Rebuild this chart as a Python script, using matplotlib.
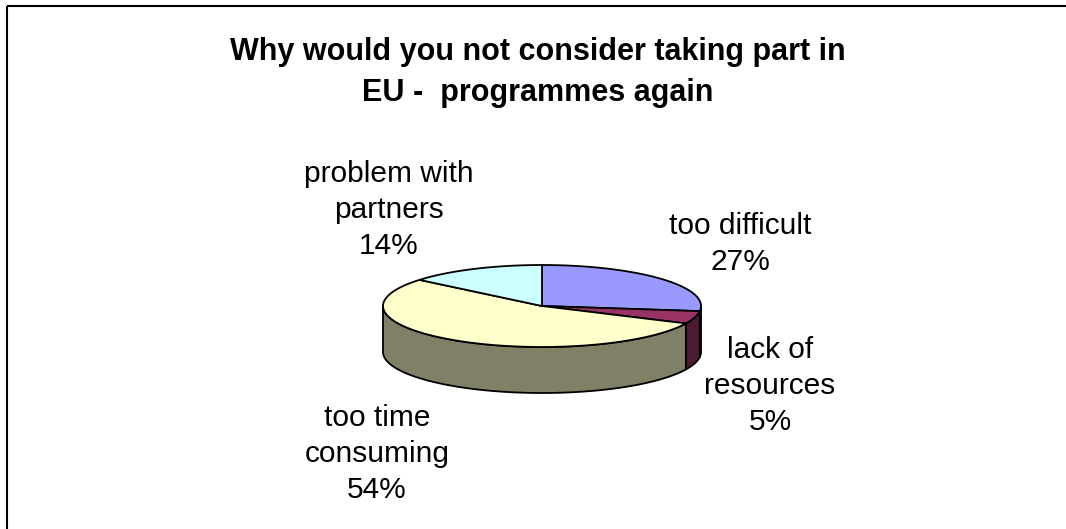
import numpy as np
import matplotlib.pyplot as plt
from matplotlib.patches import Polygon

plt.rcParams['font.family'] = ['Liberation Sans', 'DejaVu Sans']

labels = ['too difficult', 'lack of\nresources', 'too time\nconsuming', 'problem with\npartners']
values = [27, 5, 54, 14]
top_colors = ['#9999FF', '#993366', '#FFFFCC', '#CCFFFF']
side_colors = ['#4D4D80', '#4D1A33', '#808066', '#668080']
# baseline of each label's last line (pixel coords, y down)
label_pos = [(740, 270), (770, 430), (377, 498), (389, 254)]

title = 'Why would you not consider taking part in\nEU -  programmes again'

# ellipse geometry of the tilted pie
cx, cy = 542, 306
a, b = 159, 41
depth = 46


def rim(t0, t1, n=80):
    t = np.linspace(t0, t1, n)
    return cx + a * np.sin(t), cy - b * np.cos(t)


fig = plt.figure(figsize=(10.66, 5.29), dpi=100)
ax = fig.add_axes([0, 0, 1, 1])
ax.set_xlim(0, 1066)
ax.set_ylim(529, 0)
ax.axis('off')

# chart area border (only left and top show)
ax.plot([7, 7], [529, 5.5], color='black', lw=1.5, solid_capstyle='butt')
ax.plot([7, 1066], [5.5, 5.5], color='black', lw=1.5, solid_capstyle='butt')

fracs = np.array(values) / sum(values)
edges = np.concatenate([[0], np.cumsum(fracs)]) * 2 * np.pi

# outer side walls, only the front half is visible
for i in range(len(values)):
    t0 = max(edges[i], np.pi / 2)
    t1 = min(edges[i + 1], 3 * np.pi / 2)
    if t1 <= t0:
        continue
    x, y = rim(t0, t1)
    xs = np.concatenate([x, x[::-1]])
    ys = np.concatenate([y, y[::-1] + depth])
    ax.add_patch(Polygon(np.column_stack([xs, ys]), closed=True,
                         facecolor=side_colors[i], edgecolor='black', lw=1.3))

# top faces
for i in range(len(values)):
    x, y = rim(edges[i], edges[i + 1])
    xs = np.concatenate([[cx], x])
    ys = np.concatenate([[cy], y])
    ax.add_patch(Polygon(np.column_stack([xs, ys]), closed=True,
                         facecolor=top_colors[i], edgecolor='black', lw=1.3))

for lab, v, (lx, ly) in zip(labels, values, label_pos):
    ax.text(lx, ly, f'{lab}\n{v}%', ha='center', va='baseline',
            fontsize=21.5, linespacing=1.36)

ax.text(538, 101, title, ha='center', va='baseline', fontsize=22,
        fontweight='bold', linespacing=1.48)

fig.savefig('out.png', dpi=100)
